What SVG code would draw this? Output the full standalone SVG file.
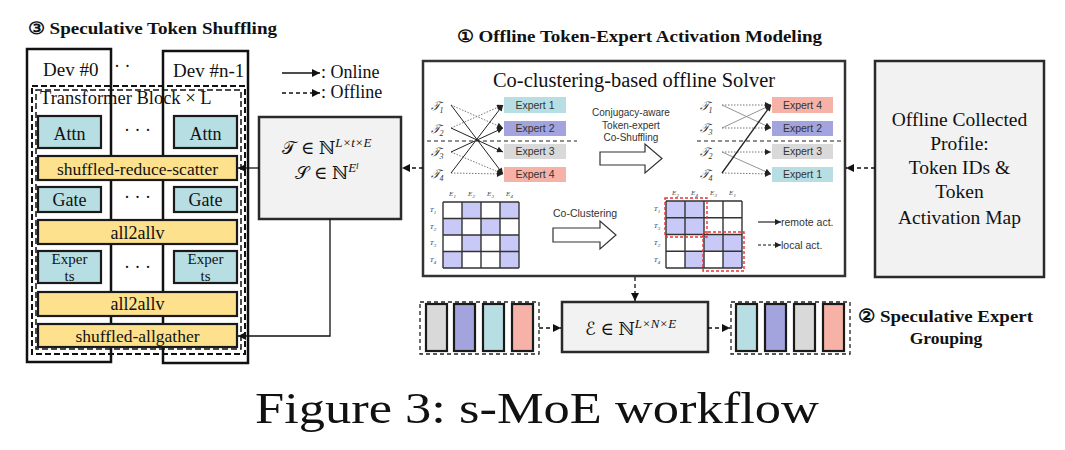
<svg xmlns="http://www.w3.org/2000/svg" width="1065" height="450" viewBox="0 0 1065 450">
<defs>
<marker id="ah" viewBox="0 0 10 10" refX="10" refY="5" markerWidth="9" markerHeight="8" markerUnits="userSpaceOnUse" orient="auto"><path d="M0,0L10,5L0,10z" fill="#111"/></marker>
<marker id="as" viewBox="0 0 10 10" refX="10" refY="5" markerWidth="7" markerHeight="6" markerUnits="userSpaceOnUse" orient="auto"><path d="M0,0L10,5L0,10z" fill="#222"/></marker>
</defs>
<style>
.serif{font-family:"Liberation Serif","DejaVu Serif",serif;fill:#111;}
.math{font-family:"Liberation Serif","DejaVu Serif","DejaVu Sans",serif;fill:#111;}
.sans{font-family:"Liberation Sans","DejaVu Sans",sans-serif;fill:#333;}
.bold{font-weight:bold;}
.box{stroke:#1a1a1a;stroke-width:2.2;}
.teal{fill:#b7dfe3;}
.yel{fill:#fde18d;}
.lav{fill:#a3a3dd;}
.gry{fill:#d9d9d9;}
.sal{fill:#f6b2a6;}
.panel{fill:#f2f2f2;stroke:#2a2a2a;stroke-width:2.5;}
.ln{fill:none;stroke:#111;stroke-width:1.3;}
.dl{fill:none;stroke:#111;stroke-width:1.3;stroke-dasharray:4 3;}
.dot{fill:none;stroke:#777;stroke-width:1;stroke-dasharray:1.5 1.5;}
.thin{fill:none;stroke:#888;stroke-width:0.9;}
.sol{fill:none;stroke:#222;stroke-width:1;}
.cell{fill:#c9c9f7;}
.grid{fill:none;stroke:#333;stroke-width:1.4;}
.red{fill:none;stroke:#f03030;stroke-width:1.4;stroke-dasharray:3 2;}
.ex{font-family:"Liberation Sans","DejaVu Sans",sans-serif;font-size:10.5px;fill:#333;text-anchor:middle;}
.tk{font-family:"Liberation Serif","DejaVu Serif",serif;font-style:italic;font-size:12px;fill:#333;text-anchor:middle;}
.tiny{font-family:"Liberation Serif","DejaVu Serif",serif;font-style:italic;font-size:7px;fill:#444;text-anchor:middle;}
.hollow{fill:#fff;stroke:#333;stroke-width:1.2;}
</style>
<rect width="1065" height="450" fill="#fff"/>

<!-- Titles -->
<text class="serif bold" x="28" y="34" font-size="17" textLength="249" lengthAdjust="spacingAndGlyphs">③ Speculative Token Shuffling</text>
<text class="serif bold" x="457" y="42" font-size="17" textLength="365" lengthAdjust="spacingAndGlyphs">① Offline Token-Expert Activation Modeling</text>
<text class="serif bold" x="858" y="322" font-size="17.5" textLength="175" lengthAdjust="spacingAndGlyphs">② Speculative Expert</text>
<text class="serif bold" x="946" y="344" font-size="17.5" text-anchor="middle">Grouping</text>
<text class="serif" x="255" y="423" font-size="44" textLength="564" lengthAdjust="spacingAndGlyphs">Figure 3: s-MoE workflow</text>

<!-- Legend -->
<g id="legend">
<line class="ln" x1="282" y1="73" x2="320" y2="73" marker-end="url(#ah)"/>
<text class="serif" x="321" y="78" font-size="18">: Online</text>
<line class="dl" x1="282" y1="93" x2="320" y2="93" marker-end="url(#ah)"/>
<text class="serif" x="321" y="98" font-size="18">: Offline</text>
</g>

<!-- Devices -->
<g id="devices">
<rect x="27" y="49" width="84" height="313" fill="none" stroke="#111" stroke-width="2.5"/>
<rect x="163" y="51" width="85" height="312" fill="none" stroke="#111" stroke-width="2.5"/>
<text class="serif" x="43" y="76" font-size="19">Dev #0</text>
<text class="serif" x="114" y="72" font-size="18">· ·</text>
<text class="serif" x="173" y="77" font-size="19">Dev #n-1</text>
</g>

<g id="transformer-block">
<rect x="32" y="86" width="213" height="268" fill="none" stroke="#111" stroke-width="2" stroke-dasharray="6 3"/>
<rect x="36" y="90" width="205" height="259" fill="none" stroke="#111" stroke-width="1.5" stroke-dasharray="6 3"/>
<text class="serif" x="40" y="104" font-size="18.5">Transformer Block × L</text>
</g>

<g id="attn0"><rect class="box teal" x="38" y="116" width="63" height="32"/><text class="serif" x="69.5" y="140" font-size="18" text-anchor="middle">Attn</text></g>
<g id="attn1"><rect class="box teal" x="174" y="116" width="63" height="32"/><text class="serif" x="205.5" y="140" font-size="18" text-anchor="middle">Attn</text></g>
<text class="serif" x="137.5" y="136" font-size="18" text-anchor="middle">· · ·</text>

<g id="srs"><rect class="box yel" x="38" y="156" width="199" height="24"/><text class="serif" x="137.5" y="175" font-size="17.5" text-anchor="middle">shuffled-reduce-scatter</text></g>

<g id="gate0"><rect class="box teal" x="38" y="187" width="63" height="25"/><text class="serif" x="69.5" y="206" font-size="18" text-anchor="middle">Gate</text></g>
<g id="gate1"><rect class="box teal" x="174" y="187" width="63" height="25"/><text class="serif" x="205.5" y="206" font-size="18" text-anchor="middle">Gate</text></g>
<text class="serif" x="137.5" y="203" font-size="18" text-anchor="middle">· · ·</text>

<g id="a2a1"><rect class="box yel" x="38" y="220" width="199" height="24"/><text class="serif" x="137.5" y="239" font-size="18" text-anchor="middle">all2allv</text></g>

<g id="experts0"><rect class="box teal" x="38" y="251" width="63" height="32"/><text class="serif" x="69.5" y="264" font-size="15" text-anchor="middle">Exper</text><text class="serif" x="69.5" y="281" font-size="15" text-anchor="middle">ts</text></g>
<g id="experts1"><rect class="box teal" x="174" y="251" width="63" height="32"/><text class="serif" x="205.5" y="264" font-size="15" text-anchor="middle">Exper</text><text class="serif" x="205.5" y="281" font-size="15" text-anchor="middle">ts</text></g>
<text class="serif" x="137.5" y="273" font-size="18" text-anchor="middle">· · ·</text>

<g id="a2a2"><rect class="box yel" x="38" y="292" width="199" height="24"/><text class="serif" x="137.5" y="310" font-size="18" text-anchor="middle">all2allv</text></g>
<g id="sag"><rect class="box yel" x="38" y="324" width="199" height="23"/><text class="serif" x="137.5" y="342" font-size="17.5" text-anchor="middle">shuffled-allgather</text></g>

<!-- T box -->
<g id="tbox">
<rect class="panel" x="259" y="117" width="142" height="102"/>
<text class="math" x="327" y="154" font-size="18" text-anchor="middle">𝒯 ∈ ℕ<tspan font-size="13" dy="-7" font-style="italic">L×t×E</tspan></text>
<text class="math" x="327" y="179" font-size="18" text-anchor="middle">𝒮 ∈ ℕ<tspan font-size="13" dy="-7" font-style="italic">E</tspan><tspan font-size="9" dy="-3" font-style="italic">l</tspan></text>
</g>

<!-- Solver -->
<g id="solver">
<rect x="423" y="61" width="422" height="215" fill="#fff" stroke="#333" stroke-width="2.5"/>
<text class="serif" x="634" y="87" font-size="20" text-anchor="middle" fill="#333" textLength="282" lengthAdjust="spacingAndGlyphs">Co-clustering-based offline Solver</text>

<!-- left expert diagram -->
<line x1="427" y1="141" x2="577" y2="141" stroke="#222" stroke-width="1.2" stroke-dasharray="4 3"/>
<text class="tk" x="437" y="110">𝒯<tspan font-size="8" dy="3">1</tspan></text>
<text class="tk" x="437" y="133">𝒯<tspan font-size="8" dy="3">2</tspan></text>
<text class="tk" x="437" y="156">𝒯<tspan font-size="8" dy="3">3</tspan></text>
<text class="tk" x="437" y="178">𝒯<tspan font-size="8" dy="3">4</tspan></text>
<rect class="teal" x="504" y="97" width="62" height="16"/><text class="ex" x="535" y="109">Expert 1</text>
<rect class="lav" x="504" y="121" width="62" height="15"/><text class="ex" x="535" y="132">Expert 2</text>
<rect class="gry" x="504" y="144" width="62" height="15"/><text class="ex" x="535" y="155">Expert 3</text>
<rect class="sal" x="504" y="167" width="62" height="15"/><text class="ex" x="535" y="178">Expert 4</text>
<line class="dot" x1="451" y1="105" x2="503" y2="128" marker-end="url(#as)"/>
<line class="dot" x1="451" y1="128" x2="503" y2="105" marker-end="url(#as)"/>
<line class="dot" x1="451" y1="152" x2="503" y2="174" marker-end="url(#as)"/>
<line class="dot" x1="451" y1="173" x2="503" y2="174" marker-end="url(#as)"/>
<line class="sol" x1="451" y1="105" x2="503" y2="174" marker-end="url(#as)"/>
<line class="sol" x1="451" y1="128" x2="503" y2="152" marker-end="url(#as)"/>
<line class="sol" x1="451" y1="152" x2="503" y2="128" marker-end="url(#as)"/>
<line class="sol" x1="451" y1="173" x2="503" y2="105" marker-end="url(#as)"/>

<!-- middle text and arrows -->
<text class="sans" x="631" y="116" font-size="10" text-anchor="middle">Conjugacy-aware</text>
<text class="sans" x="631" y="129" font-size="10" text-anchor="middle">Token-expert</text>
<text class="sans" x="631" y="141" font-size="10" text-anchor="middle">Co-Shuffling</text>
<polygon class="hollow" points="600,152 645,152 645,144 662,158.5 645,173 645,165 600,165"/>
<text class="sans" x="553" y="217" font-size="10.5">Co-Clustering</text>
<polygon class="hollow" points="553,228 600,228 600,221 616,235 600,249 600,242 553,242"/>

<!-- right expert diagram -->
<line x1="697" y1="141" x2="845" y2="141" stroke="#222" stroke-width="1.2" stroke-dasharray="4 3"/>
<text class="tk" x="706" y="110">𝒯<tspan font-size="8" dy="3">1</tspan></text>
<text class="tk" x="706" y="132">𝒯<tspan font-size="8" dy="3">3</tspan></text>
<text class="tk" x="706" y="156">𝒯<tspan font-size="8" dy="3">2</tspan></text>
<text class="tk" x="706" y="178">𝒯<tspan font-size="8" dy="3">4</tspan></text>
<rect class="sal" x="772" y="97" width="61" height="16"/><text class="ex" x="802.5" y="109">Expert 4</text>
<rect class="lav" x="772" y="121" width="61" height="15"/><text class="ex" x="802.5" y="132">Expert 2</text>
<rect class="gry" x="772" y="144" width="61" height="15"/><text class="ex" x="802.5" y="155">Expert 3</text>
<rect class="teal" x="772" y="167" width="61" height="15"/><text class="ex" x="802.5" y="178">Expert 1</text>
<line class="dot" x1="722" y1="105" x2="771" y2="105" marker-end="url(#as)"/>
<line class="thin" x1="722" y1="105" x2="771" y2="128" marker-end="url(#as)"/>
<line class="thin" x1="722" y1="128" x2="771" y2="105" marker-end="url(#as)"/>
<line class="dot" x1="722" y1="128" x2="771" y2="128" marker-end="url(#as)"/>
<line class="dot" x1="722" y1="152" x2="771" y2="152" marker-end="url(#as)"/>
<line class="thin" x1="722" y1="152" x2="771" y2="174" marker-end="url(#as)"/>
<line class="dot" x1="722" y1="173" x2="771" y2="174" marker-end="url(#as)"/>
<line x1="722" y1="173" x2="771" y2="105" stroke="#222" stroke-width="1.3" marker-end="url(#as)"/>

<!-- left matrix -->
<rect class="cell" x="462" y="202" width="19" height="16.5"/>
<rect class="cell" x="500" y="202" width="19" height="16.5"/>
<rect class="cell" x="443" y="218.5" width="19" height="16.5"/>
<rect class="cell" x="481" y="218.5" width="19" height="16.5"/>
<rect class="cell" x="462" y="235" width="19" height="16.5"/>
<rect class="cell" x="500" y="235" width="19" height="16.5"/>
<rect class="cell" x="443" y="251.5" width="19" height="16.5"/>
<rect class="cell" x="500" y="251.5" width="19" height="16.5"/>
<path class="grid" d="M443,202V268M462,202V268M481,202V268M500,202V268M519,202V268M443,202H519M443,218.5H519M443,235H519M443,251.5H519M443,268H519"/>
<text class="tiny" x="452.5" y="196">E<tspan font-size="5" dy="1.5">1</tspan></text>
<text class="tiny" x="471.5" y="196">E<tspan font-size="5" dy="1.5">2</tspan></text>
<text class="tiny" x="490.5" y="196">E<tspan font-size="5" dy="1.5">3</tspan></text>
<text class="tiny" x="509.5" y="196">E<tspan font-size="5" dy="1.5">4</tspan></text>
<text class="tiny" x="433" y="212">T<tspan font-size="5" dy="1.5">1</tspan></text>
<text class="tiny" x="433" y="229">T<tspan font-size="5" dy="1.5">2</tspan></text>
<text class="tiny" x="433" y="245">T<tspan font-size="5" dy="1.5">3</tspan></text>
<text class="tiny" x="433" y="262">T<tspan font-size="5" dy="1.5">4</tspan></text>

<!-- right matrix -->
<rect class="cell" x="666" y="201" width="19" height="16.75"/>
<rect class="cell" x="685" y="201" width="19" height="16.75"/>
<rect class="cell" x="666" y="217.75" width="19" height="16.75"/>
<rect class="cell" x="685" y="217.75" width="19" height="16.75"/>
<rect class="cell" x="704" y="234.5" width="19" height="16.75"/>
<rect class="cell" x="723" y="234.5" width="19" height="16.75"/>
<rect class="cell" x="685" y="251.25" width="19" height="16.75"/>
<rect class="cell" x="723" y="251.25" width="19" height="16.75"/>
<path class="grid" d="M666,201V268M685,201V268M704,201V268M723,201V268M742,201V268M666,201H742M666,217.75H742M666,234.5H742M666,251.25H742M666,268H742"/>
<rect class="red" x="665" y="198" width="42" height="39"/>
<rect class="red" x="703" y="232" width="41" height="39"/>
<text class="tiny" x="675.5" y="195">E<tspan font-size="5" dy="1.5">2</tspan></text>
<text class="tiny" x="694.5" y="195">E<tspan font-size="5" dy="1.5">4</tspan></text>
<text class="tiny" x="713.5" y="195">E<tspan font-size="5" dy="1.5">3</tspan></text>
<text class="tiny" x="732.5" y="195">E<tspan font-size="5" dy="1.5">1</tspan></text>
<text class="tiny" x="657" y="211">T<tspan font-size="5" dy="1.5">1</tspan></text>
<text class="tiny" x="657" y="228">T<tspan font-size="5" dy="1.5">3</tspan></text>
<text class="tiny" x="657" y="245">T<tspan font-size="5" dy="1.5">2</tspan></text>
<text class="tiny" x="657" y="262">T<tspan font-size="5" dy="1.5">4</tspan></text>

<!-- act legend -->
<line x1="758" y1="222" x2="781" y2="222" stroke="#111" stroke-width="1.1" marker-end="url(#as)"/>
<text class="sans" x="781" y="226" font-size="10.5">remote act.</text>
<line x1="758" y1="245" x2="781" y2="245" stroke="#111" stroke-width="1.1" stroke-dasharray="3 2" marker-end="url(#as)"/>
<text class="sans" x="781" y="249" font-size="10.5">local act.</text>
</g>

<!-- Profile box -->
<g id="profile">
<rect class="panel" x="875" y="61" width="169" height="216"/>
<text class="serif" x="959.5" y="126" font-size="19.5" text-anchor="middle" fill="#333">Offline Collected</text>
<text class="serif" x="959.5" y="150" font-size="19.5" text-anchor="middle" fill="#333">Profile:</text>
<text class="serif" x="959.5" y="174" font-size="19.5" text-anchor="middle" fill="#333">Token IDs &amp;</text>
<text class="serif" x="959.5" y="198" font-size="19.5" text-anchor="middle" fill="#333">Token</text>
<text class="serif" x="959.5" y="224" font-size="19.5" text-anchor="middle" fill="#333">Activation Map</text>
</g>

<!-- Expert grouping -->
<g id="group-before">
<rect x="420" y="302" width="119" height="52" fill="none" stroke="#222" stroke-width="1.3" stroke-dasharray="4 3"/>
<rect class="box gry" x="426" y="304" width="21" height="47"/>
<rect class="box lav" x="454" y="304" width="21" height="47"/>
<rect class="box teal" x="483" y="304" width="21" height="47"/>
<rect class="box sal" x="512" y="304" width="21" height="47"/>
</g>
<g id="ebox">
<rect class="panel" x="562" y="302" width="146" height="50"/>
<text class="math" x="585" y="335" font-size="18">ℰ ∈ ℕ<tspan font-size="13" dy="-7" font-style="italic">L×N×E</tspan></text>
</g>
<g id="group-after">
<rect x="731" y="302" width="119" height="52" fill="none" stroke="#222" stroke-width="1.3" stroke-dasharray="4 3"/>
<rect class="box teal" x="736" y="304" width="21" height="47"/>
<rect class="box lav" x="765" y="304" width="21" height="47"/>
<rect class="box gry" x="794" y="304" width="21" height="47"/>
<rect class="box sal" x="823" y="304" width="21" height="47"/>
</g>

<!-- Connectors -->
<g id="connectors">
<line class="ln" x1="259" y1="168" x2="238" y2="168" marker-end="url(#ah)"/>
<path class="ln" d="M330,219V336H238" marker-end="url(#ah)"/>
<line class="dl" x1="423" y1="168" x2="402" y2="168" marker-end="url(#ah)"/>
<line class="dl" x1="875" y1="168" x2="846" y2="168" marker-end="url(#ah)"/>
<line class="dl" x1="635" y1="277" x2="635" y2="301" marker-end="url(#ah)"/>
<line class="dl" x1="539" y1="328" x2="561" y2="328" marker-end="url(#ah)"/>
<line class="dl" x1="708" y1="328" x2="730" y2="328" marker-end="url(#ah)"/>
</g>
</svg>
